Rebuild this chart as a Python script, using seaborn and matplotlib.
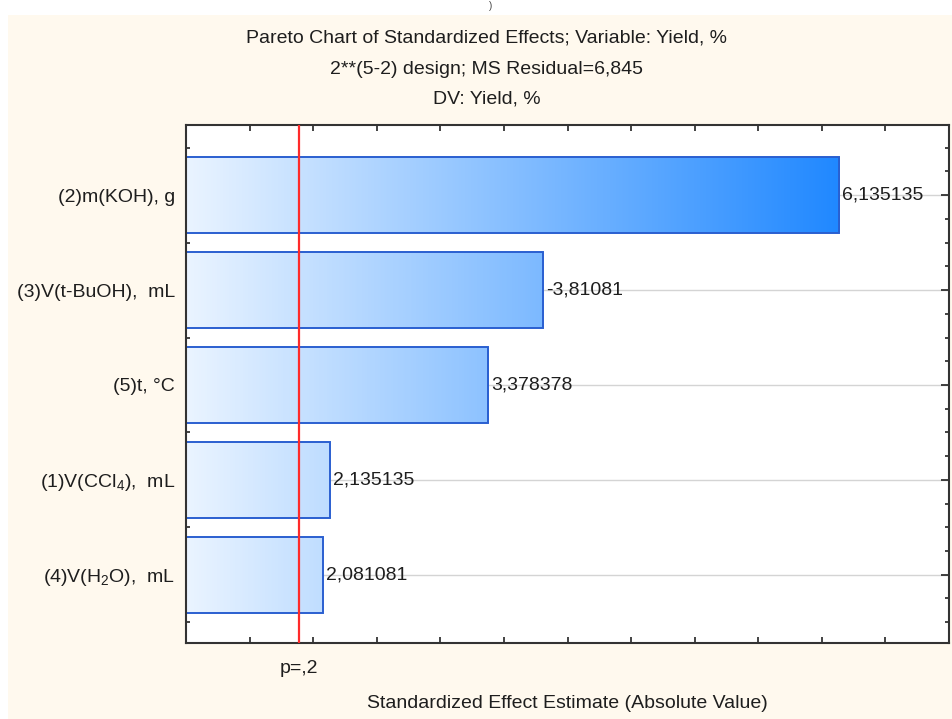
"""
Pareto chart of standardized effects (2**(5-2) design, Yield %).
"""

import numpy as np
import pandas as pd
import matplotlib
matplotlib.use("Agg")
import matplotlib.pyplot as plt
from matplotlib.colors import LinearSegmentedColormap, Normalize
from matplotlib.patches import Rectangle
import seaborn as sns

# ---- data ----
factors = [
    "(2)m(KOH), g",
    "(3)V(t-BuOH),  mL",
    "(5)t, °C",
    "(1)V(CCl$_4$),  mL",
    "(4)V(H$_2$O),  mL",
]
effects = [6.135135, -3.81081, 3.378378, 2.135135, 2.081081]
p_crit = 1.886  # t(0.90, df=2), p = .2
x_range = [1.0, 7.0]
x_minor_ticks = [1.5, 2.0, 2.5, 3.0, 3.5, 4.0, 4.5, 5.0, 5.5, 6.0, 6.5]
title_lines = [
    "Pareto Chart of Standardized Effects; Variable: Yield, %",
    "2**(5-2) design; MS Residual=6,845",
    "DV: Yield, %",
]

CREAM = "#fff9ee"
EDGE = "#2a5fd0"
TXT = "#1e1e1e"
FS = 14

df = pd.DataFrame({"factor": factors, "effect": effects})
df["abs_effect"] = df["effect"].abs()

sns.set_style("ticks")
plt.rcParams["font.family"] = ["Liberation Sans", "DejaVu Sans"]
plt.rcParams["mathtext.fontset"] = "custom"
plt.rcParams["mathtext.rm"] = "Liberation Sans"
plt.rcParams["mathtext.it"] = "Liberation Sans"

fig = plt.figure(figsize=(9.52, 7.19), dpi=100, facecolor="white")
fig.patches.append(Rectangle((8 / 952, 0), 1, 1 - 15 / 719, transform=fig.transFigure,
                             facecolor=CREAM, edgecolor="none", zorder=-10))
ax = fig.add_axes([186 / 952, 1 - 643 / 719, (949 - 186) / 952, (643 - 125) / 719])
ax.set_facecolor("white")

# horizontal guide lines through the bar centres
for i in range(len(factors)):
    ax.axhline(i, color="#d4d4d4", lw=1, zorder=0)

sns.barplot(data=df, x="abs_effect", y="factor", orient="h", order=factors,
            errorbar=None, width=0.8, ax=ax, zorder=2,
            edgecolor=EDGE, linewidth=1.4)

# gradient fill, colour depends on x position (common to all bars)
cmap = LinearSegmentedColormap.from_list("bluegrad", ["#eaf4ff", "#2088ff"], N=256)
norm = Normalize(vmin=x_range[0], vmax=df["abs_effect"].max())
for patch in ax.patches:
    patch.set_facecolor("none")
    x0 = max(patch.get_x(), x_range[0])
    x1 = patch.get_x() + patch.get_width()
    y0 = patch.get_y()
    h = patch.get_height()
    grad = np.linspace(x0, x1, 256).reshape(1, -1)
    im = ax.imshow(grad, cmap=cmap, norm=norm, aspect="auto",
                   extent=[x0, x1, y0 + h, y0], zorder=1, interpolation="bilinear")
    im.set_clip_path(patch)

# value labels at bar ends
for patch, val in zip(ax.patches, df["effect"]):
    end = patch.get_x() + patch.get_width()
    yc = patch.get_y() + patch.get_height() / 2
    ax.annotate(f"{val:.7g}".replace(".", ","), (end, yc), xytext=(2, 0),
                textcoords="offset points", va="center", ha="left",
                fontsize=FS, color=TXT, zorder=5)

# critical value line
ax.axvline(p_crit, color="#ff2a2a", lw=1.6, zorder=4)

ax.set_xlim(x_range)
ax.set_ylim(len(factors) - 0.28, -0.74)

ax.set_xticks([p_crit])
ax.set_xticklabels(["p=,2"])
ax.set_xticks(x_minor_ticks, minor=True)
ax.set_yticks(np.arange(-0.5, len(factors) - 0.25, 0.25), minor=True)

ax.tick_params(axis="x", which="major", length=0, pad=12, labelsize=FS, labelcolor=TXT)
ax.tick_params(axis="x", which="minor", direction="in", length=4, width=1.2,
               top=True, bottom=True, color="#222222")
ax.tick_params(axis="y", which="major", direction="in", length=6, width=1.2,
               left=True, right=True, labelsize=FS, labelcolor=TXT, pad=8, color="#222222")
ax.tick_params(axis="y", which="minor", direction="in", length=3, width=1.2,
               left=True, right=True, color="#222222")

ax.set_xlabel("Standardized Effect Estimate (Absolute Value)", fontsize=FS,
              color=TXT, labelpad=13)
ax.set_ylabel("")

for sp in ax.spines.values():
    sp.set_visible(True)
    sp.set_color("#333333")
    sp.set_linewidth(1.5)

# title block
for text, ypix in zip(title_lines, [38, 69, 99]):
    fig.text(487 / 952, 1 - ypix / 719, text, ha="center", va="center",
             fontsize=FS, color=TXT)

fig.text(491 / 952, 1 - 1 / 719, ")", ha="center", va="top", fontsize=7, color="#444444")

fig.savefig("out.png", dpi=100, facecolor=fig.get_facecolor())
